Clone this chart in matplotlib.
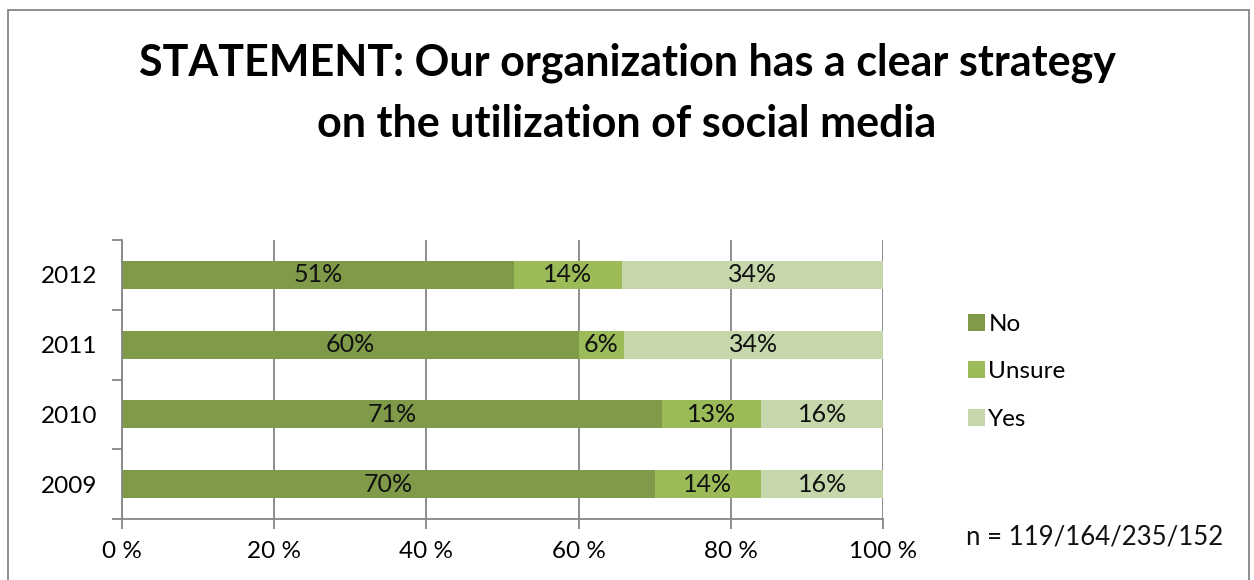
import matplotlib.pyplot as plt
from matplotlib.patches import Rectangle
import numpy as np

plt.rcParams['font.family'] = ['Lato', 'DejaVu Sans']

# data
years = ['2009', '2010', '2011', '2012']
series = ['No', 'Unsure', 'Yes']
no_vals = [70, 71, 60, 51]
unsure_vals = [14, 13, 6, 14]
yes_vals = [16, 16, 34, 34]
x_ticks = [0, 20, 40, 60, 80, 100]
x_tick_labels = ['0 %', '20 %', '40 %', '60 %', '80 %', '100 %']
n_note = 'n = 119/164/235/152'
title = 'STATEMENT: Our organization has a clear strategy\non the utilization of social media'

colors = ['#7F9B4A', '#9BBB59', '#C6D7AC']

W, H = 1254, 580
fig = plt.figure(figsize=(W / 100, H / 100), dpi=100)

# outer chart frame
fig.patches.append(Rectangle((8 / W, -0.1), (1249 - 8) / W, 1.1 - 10 / H, transform=fig.transFigure,
                             fill=False, edgecolor='#868686', linewidth=1.3))

ax = fig.add_axes([122 / W, 1 - 519 / H, (883 - 122) / W, (519 - 240) / H])

vals = np.array([no_vals, unsure_vals, yes_vals], dtype=float)
totals = vals.sum(axis=0)
pct = vals / totals * 100
y = np.arange(len(years))

left = np.zeros(len(years))
for i, name in enumerate(series):
    ax.barh(y, pct[i], left=left, height=0.4, color=colors[i], label=name, zorder=2)
    for j in range(len(years)):
        ax.text(left[j] + pct[i][j] / 2, y[j], f'{int(vals[i][j])}%', ha='center', va='center',
                fontsize=18, color='#111111', zorder=3)
    left += pct[i]

ax.set_xlim(0, 100)
ax.set_ylim(-0.5, len(years) - 0.5)
ax.set_xticks(x_ticks)
ax.set_xticklabels(x_tick_labels, fontsize=17.5)
ax.set_yticks(y)
ax.set_yticklabels(years, fontsize=17.5)
ax.set_yticks(np.arange(-0.5, len(years), 1), minor=True)
ax.tick_params(axis='y', which='major', length=0, pad=18)
ax.tick_params(axis='y', which='minor', length=7, width=1.3, color='#868686', direction='out')
ax.tick_params(axis='x', length=7, width=1.3, color='#868686', direction='out', pad=9)
ax.grid(axis='x', color='#868686', linewidth=1.3, zorder=0)

for s in ['top', 'right']:
    ax.spines[s].set_visible(False)
for s in ['left', 'bottom']:
    ax.spines[s].set_color('#868686')
    ax.spines[s].set_linewidth(1.3)

leg = ax.legend(loc='upper left', bbox_to_anchor=(958 / W, 1 - 304 / H), bbox_transform=fig.transFigure,
                frameon=False, fontsize=17.5, handlelength=0.7, handleheight=0.7, handletextpad=0.15,
                labelspacing=1.1, borderaxespad=0)

fig.text(966 / W, 1 - 537 / H, n_note, fontsize=18.5, ha='left', va='center', color='#111111')

fig.text(0.5, 1 - 93 / H, title, fontsize=31, fontweight='bold', ha='center', va='center',
         linespacing=1.65, color='#000000')

fig.savefig('out.png', dpi=100)
